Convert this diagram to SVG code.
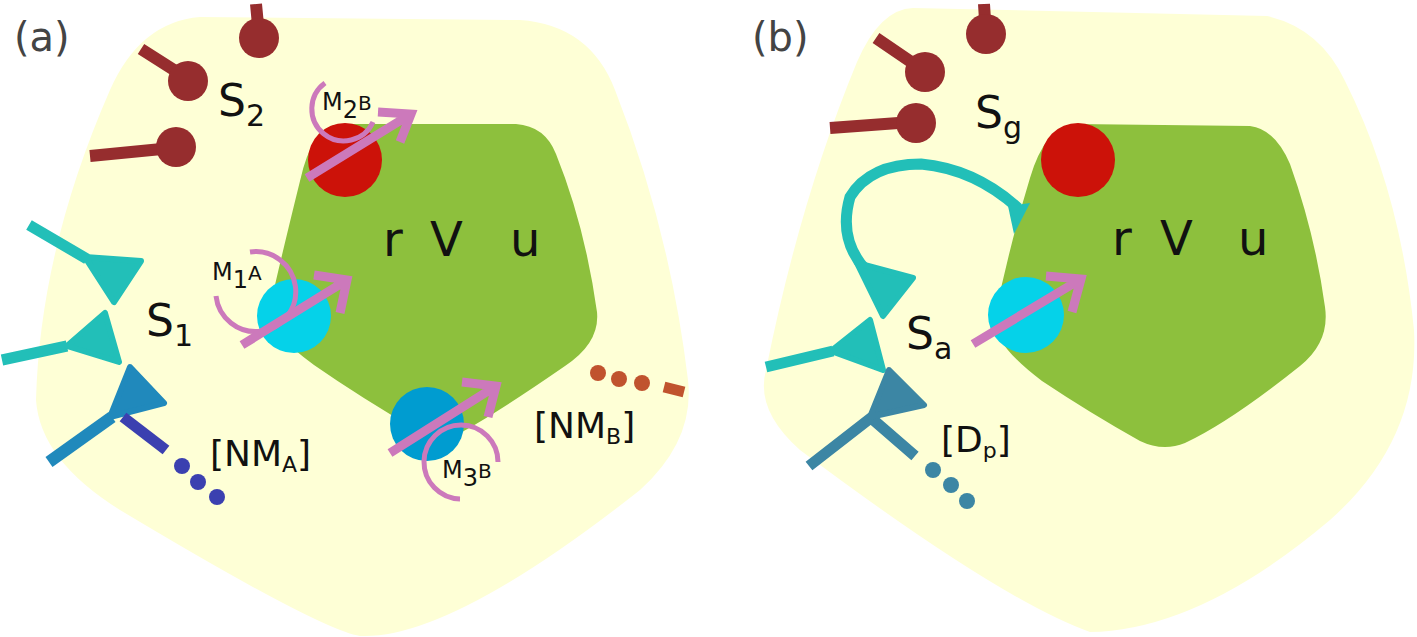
<svg xmlns="http://www.w3.org/2000/svg" width="1417" height="637" viewBox="0 0 1417 637">
<style>
text{font-family:"DejaVu Sans",sans-serif;fill:#111}
.lab{font-size:44px}
.big{font-size:48px}
.m{font-size:24px}
.br{font-size:36px}
.stem{stroke:#962d2e;stroke-width:12;fill:none}
.ball{fill:#962d2e}
.pink{stroke:#cc79bb;stroke-width:9;fill:none}
.arc{stroke:#cc79bb;stroke-width:5;fill:none}
.teal{fill:#22bfb8}
.tl{stroke:#22bfb8;stroke-width:11;fill:none}
</style>
<rect width="1417" height="637" fill="#fff"/>
<g id="panel-a">
<path d="M200,17 L520,20 Q590,25 615,90 Q670,230 688,380 Q695,440 640,490 Q450,640 360,636 Q320,630 120,510 Q40,460 36,400 Q40,250 110,90 Q140,22 200,17 Z" fill="#feffd6"/>
<path d="M340,124 L516,124 Q545,126 556,154 Q585,226 597,312 Q600,343 565,366 Q500,411 462,432 Q440,442 420,432 Q360,397 314,365 Q265,330 270,307 Q280,262 300,181 Q312,126 340,124 Z" fill="#8dc03d"/>
<text x="14" y="51" font-size="40" style="fill:#444">(a)</text>
<g id="s2"><path class="stem" d="M256,4 L258,25 M141,49 L185,77 M90,156 L172,148"/>
<circle class="ball" cx="259" cy="38" r="20"/><circle class="ball" cx="188" cy="81" r="20"/><circle class="ball" cx="176" cy="147" r="20"/>
<text class="lab" x="218" y="116">S<tspan font-size="30" dy="10">2</tspan></text></g>
<g id="s1"><path class="tl" d="M29,225 L87,259 M2,360 L67,346"/>
<path class="teal" d="M85,257 L141,261 L114,302 Z M67,346 L105,313 L119,362 Z" stroke="#22bfb8" stroke-width="6" stroke-linejoin="round"/>
<path d="M49,462 L112,417" stroke="#2089bc" stroke-width="12"/>
<path d="M110,417 L130,367 L164,403 Z" fill="#2089bc" stroke="#2089bc" stroke-width="6" stroke-linejoin="round"/>
<path d="M123,417 L166,450" stroke="#3b40b0" stroke-width="11"/>
<circle cx="182" cy="466" r="8" fill="#3b40b0"/><circle cx="198" cy="482" r="8" fill="#3b40b0"/><circle cx="217" cy="497" r="8" fill="#3b40b0"/>
<text class="lab" x="146" y="336">S<tspan font-size="30" dy="10">1</tspan></text></g>
<g id="nma"><text class="br" x="210" y="466">[NM<tspan font-size="22" dy="6">A</tspan><tspan dy="-6">]</tspan></text></g>
<g id="m2b"><circle cx="345" cy="160" r="37" fill="#cc1209"/>
<path class="arc" d="M325,83 A32,32 0 1 0 373,122"/>
<path class="pink" d="M307,178 L411,114 M378,112 L411,114 L400,142"/>
<text class="m" x="322" y="110">M<tspan font-size="24" dy="8">2</tspan><tspan font-size="20" dy="-8">B</tspan></text></g>
<g id="m1a"><circle cx="294" cy="316" r="37" fill="#05d2e9"/>
<path class="arc" d="M250,252 A40,40 0 1 1 216,296"/>
<path class="pink" d="M242,345 L347,280 M314,275 L347,280 L340,313"/>
<text class="m" x="212" y="280">M<tspan font-size="24" dy="8">1</tspan><tspan font-size="20" dy="-8">A</tspan></text></g>
<g id="m3b"><circle cx="427" cy="424" r="37" fill="#009cd0"/>
<path class="arc" d="M498,462 A37,37 0 1 0 460,499"/>
<path class="pink" d="M390,453 L496,386 M462,382 L496,386 L488,417"/>
<text class="m" x="442" y="478">M<tspan font-size="24" dy="8">3</tspan><tspan font-size="20" dy="-8">B</tspan></text></g>
<g id="nmb"><circle cx="598" cy="373" r="8" fill="#c0532e"/><circle cx="619" cy="379" r="8" fill="#c0532e"/><circle cx="642" cy="383" r="8" fill="#c0532e"/>
<path d="M664,387 L684,392" stroke="#c0532e" stroke-width="11"/>
<text class="br" x="534" y="438">[NM<tspan font-size="22" dy="6">B</tspan><tspan dy="-6">]</tspan></text></g>
<text class="big" x="383" y="256">r</text><text class="big" x="430" y="256">V</text><text class="big" x="510" y="256">u</text>
</g>
<g id="panel-b">
<path d="M913,8 L1267,16 Q1320,28 1345,81 Q1400,190 1414,330 Q1420,440 1330,520 Q1200,630 1090,632 Q1000,600 800,450 Q755,410 766,370 Q800,200 857,62 Q880,9 913,8 Z" fill="#feffd6"/>
<path d="M1075,124 L1250,126 Q1275,129 1290,164 Q1315,234 1325,307 Q1330,342 1300,366 Q1230,422 1185,443 Q1163,452 1140,441 Q1090,413 1042,381 Q990,342 995,316 Q1010,244 1030,178 Q1045,127 1075,124 Z" fill="#8dc03d"/>
<text x="752" y="51" font-size="40" style="fill:#444">(b)</text>
<g id="sg"><path class="stem" d="M984,4 L985,20 M876,38 L920,68 M830,128 L912,122"/>
<circle class="ball" cx="986" cy="34" r="20"/><circle class="ball" cx="925" cy="72" r="20"/><circle class="ball" cx="916" cy="123" r="20"/>
<text class="lab" x="975" y="128">S<tspan font-size="30" dy="10">g</tspan></text>
<circle cx="1078" cy="160" r="37" fill="#cc1209"/></g>
<g id="sa"><path class="tl" d="M865,269 Q838,239 850,197 Q870,164 921,164 Q975,169 1018,208" stroke-width="10"/>
<path class="teal" d="M1008,206 L1030,203 L1014,234 Z"/>
<path class="teal" d="M857,263 L913,278 L883,316 Z M831,351 L870,320 L883,370 Z" stroke="#22bfb8" stroke-width="6" stroke-linejoin="round"/>
<path class="tl" d="M766,367 L833,351"/>
<path d="M809,466 L872,417 M870,417 L915,456" stroke="#3c86a4" stroke-width="11" fill="none"/>
<path d="M870,417 L889,370 L924,405 Z" fill="#3c86a4" stroke="#3c86a4" stroke-width="6" stroke-linejoin="round"/>
<circle cx="933" cy="470" r="8" fill="#3c86a4"/><circle cx="951" cy="485" r="8" fill="#3c86a4"/><circle cx="967" cy="501" r="8" fill="#3c86a4"/>
<text class="lab" x="906" y="349">S<tspan font-size="30" dy="10">a</tspan></text>
<text class="br" x="941" y="452">[D<tspan font-size="22" dy="6">p</tspan><tspan dy="-6">]</tspan></text></g>
<g id="mb"><circle cx="1026" cy="315" r="38" fill="#05d2e9"/>
<path class="pink" d="M973,344 L1081,279 M1046,276 L1081,279 L1072,312"/></g>
<text class="big" x="1112" y="255">r</text><text class="big" x="1160" y="255">V</text><text class="big" x="1238" y="255">u</text>
</g>
</svg>
